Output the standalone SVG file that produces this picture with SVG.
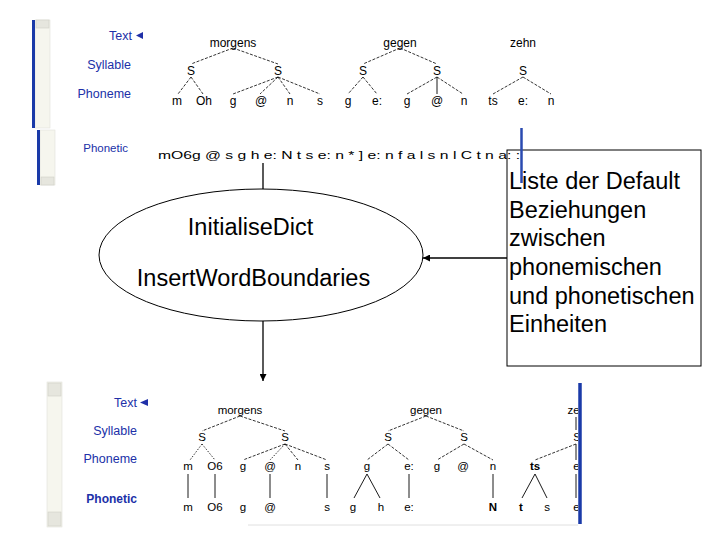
<svg xmlns="http://www.w3.org/2000/svg" width="720" height="540" viewBox="0 0 720 540">
<style>
.lbl{font-family:"Liberation Sans",Arial,sans-serif;font-size:12.5px;fill:#2030a8;text-anchor:end}
.t{font-family:"Liberation Sans",Arial,sans-serif;font-size:12px;fill:#000;text-anchor:middle}
.tb{font-family:"Liberation Sans",Arial,sans-serif;font-size:11.5px;fill:#000;text-anchor:middle}
.big{font-family:"Liberation Sans",Arial,sans-serif;font-size:23.5px;fill:#000}
.d{stroke:#000;stroke-width:0.8;stroke-dasharray:3,1.5;fill:none}
.dt{stroke:#000;stroke-width:0.8;stroke-dasharray:1.5,1.5;fill:none}
.s{stroke:#000;stroke-width:0.9;fill:none}
.blue{stroke:#1a3aa8;stroke-width:3}
.strip{fill:#f6f6ee;stroke:#e2e2da;stroke-width:0.6}
.btn{fill:#e6e6de;stroke:#cfcfc6;stroke-width:0.6}
.conn{stroke:#000;stroke-width:1.3;fill:none}
</style>
<defs>
<marker id="ah" viewBox="0 0 10 10" refX="10" refY="5" markerWidth="7" markerHeight="7" orient="auto" markerUnits="userSpaceOnUse">
<path d="M0,0 L10,5 L0,10 z" fill="#000"/>
</marker>
<clipPath id="clipB"><rect x="0" y="378" width="578" height="162"/></clipPath>
</defs>
<rect width="720" height="540" fill="#fff"/>

<g id="panel-top">
<rect class="strip" x="35" y="20" width="15" height="108"/>
<rect class="btn" x="36" y="20" width="13" height="8"/>
<line class="blue" x1="33.5" y1="20" x2="33.5" y2="128"/>
<rect class="strip" x="40" y="130" width="15" height="55"/>
<rect class="btn" x="41" y="177" width="13" height="8"/>
<line class="blue" x1="38.5" y1="130" x2="38.5" y2="185"/>
<text class="lbl" x="132" y="40">Text</text>
<polygon points="136,35.5 143,32 143,39" fill="#2030a8"/>
<text class="lbl" x="131" y="69">Syllable</text>
<text class="lbl" x="131" y="98">Phoneme</text>
<text class="lbl" x="128" y="152" style="font-size:11.5px">Phonetic</text>
<g>
<text class="t" x="233" y="47">morgens</text>
<text class="t" x="400" y="47">gegen</text>
<text class="t" x="523" y="47">zehn</text>
<text class="t" x="191" y="75">S</text>
<text class="t" x="278" y="75">S</text>
<text class="t" x="363" y="75">S</text>
<text class="t" x="437" y="75">S</text>
<text class="t" x="523" y="75">S</text>
<text class="t" x="177" y="105">m</text>
<text class="t" x="204" y="105">Oh</text>
<text class="t" x="233" y="105">g</text>
<text class="t" x="261" y="105">@</text>
<text class="t" x="290" y="105">n</text>
<text class="t" x="320" y="105">s</text>
<text class="t" x="348" y="105">g</text>
<text class="t" x="377" y="105">e:</text>
<text class="t" x="407" y="105">g</text>
<text class="t" x="437" y="105">@</text>
<text class="t" x="464" y="105">n</text>
<text class="t" x="493" y="105">ts</text>
<text class="t" x="523" y="105">e:</text>
<text class="t" x="551" y="105">n</text>
</g>
<g>
<path class="d" d="M233,48 L191,64 M233,48 L278,64 M400,48 L363,64 M400,48 L437,64"/>
<path class="d" d="M191,77 L178,94 M191,77 L203,94"/>
<path class="d" d="M278,77 L233,94 M278,77 L260,94 M278,77 L290,94 M278,77 L320,94"/>
<path class="d" d="M363,77 L348,94 M363,77 L377,94"/>
<path class="d" d="M437,77 L407,94 M437,77 L463,94"/>
<path class="s" d="M437,77 L437,94"/>
<path class="d" d="M523,77 L493,94 M523,77 L551,94"/>
</g>
<text x="158" y="159" textLength="362" lengthAdjust="spacingAndGlyphs" style="font-family:'Liberation Sans',Arial,sans-serif;font-size:10.5px;fill:#000">mO6g @ s g h e: N t s e: n * ] e: n f a l s n l C t n a: :</text>
</g>

<g id="box-node">
<rect x="507" y="150" width="194" height="216" fill="none" stroke="#000" stroke-width="1"/>
<line x1="521.5" y1="128" x2="521.5" y2="183" stroke="#2a4ab0" stroke-width="2.5"/>
<text class="big" x="509" y="189">Liste der Default</text>
<text class="big" x="509" y="218">Beziehungen</text>
<text class="big" x="509" y="246">zwischen</text>
<text class="big" x="509" y="275">phonemischen</text>
<text class="big" x="509" y="304">und phonetischen</text>
<text class="big" x="509" y="332">Einheiten</text>
</g>

<g id="ellipse-node">
<ellipse cx="261" cy="255" rx="162" ry="66" fill="none" stroke="#000" stroke-width="1"/>
<text class="big" x="250.5" y="235" text-anchor="middle">InitialiseDict</text>
<text class="big" x="253.5" y="286" text-anchor="middle">InsertWordBoundaries</text>
</g>

<g id="connectors">
<line class="conn" x1="263" y1="163" x2="263" y2="189"/>
<line class="conn" x1="507" y1="258" x2="423" y2="258" marker-end="url(#ah)"/>
<line class="conn" x1="263" y1="321" x2="263" y2="381" marker-end="url(#ah)"/>
</g>

<g id="panel-bottom">
<rect class="strip" x="47" y="382" width="15" height="145"/>
<rect class="btn" x="48" y="383" width="13" height="13"/>
<rect class="btn" x="48" y="512" width="13" height="14"/>
<line x1="248" y1="525" x2="578" y2="525" stroke="#e0e0e0" stroke-width="1"/>
<text class="lbl" x="137" y="407">Text</text>
<polygon points="140,402.5 148,399 148,406" fill="#2030a8"/>
<text class="lbl" x="137" y="435">Syllable</text>
<text class="lbl" x="137" y="463">Phoneme</text>
<text class="lbl" x="137" y="503" style="font-weight:bold;font-size:12px">Phonetic</text>
<g clip-path="url(#clipB)">
<text class="tb" x="240" y="414">morgens</text>
<text class="tb" x="426" y="414">gegen</text>
<text class="tb" x="580" y="414">zehn</text>
<text class="tb" x="202" y="441">S</text>
<text class="tb" x="285" y="441">S</text>
<text class="tb" x="388" y="441">S</text>
<text class="tb" x="464" y="441">S</text>
<text class="tb" x="577" y="441">S</text>
<text class="tb" x="188" y="470">m</text>
<text class="tb" x="215" y="470">O6</text>
<text class="tb" x="243" y="470">g</text>
<text class="tb" x="270" y="470">@</text>
<text class="tb" x="298" y="470">n</text>
<text class="tb" x="327" y="470">s</text>
<text class="tb" x="367" y="470">g</text>
<text class="tb" x="409" y="470">e:</text>
<text class="tb" x="437" y="470">g</text>
<text class="tb" x="463" y="470">@</text>
<text class="tb" x="493" y="470">n</text>
<text class="tb" x="535" y="470" style="font-weight:bold">ts</text>
<text class="tb" x="578" y="470">e:</text>
<text class="tb" x="188" y="511">m</text>
<text class="tb" x="215" y="511">O6</text>
<text class="tb" x="243" y="511">g</text>
<text class="tb" x="270" y="511">@</text>
<text class="tb" x="327" y="511">s</text>
<text class="tb" x="353" y="511">g</text>
<text class="tb" x="381" y="511">h</text>
<text class="tb" x="409" y="511">e:</text>
<text class="tb" x="493" y="511" style="font-weight:bold">N</text>
<text class="tb" x="521" y="511" style="font-weight:bold">t</text>
<text class="tb" x="547" y="511">s</text>
<text class="tb" x="578" y="511">e:</text>
<path class="d" d="M240,416 L202,431 M240,416 L285,431 M426,416 L388,431 M426,416 L464,431"/>
<path class="dt" d="M202,444 L190,460 M202,444 L215,460"/>
<path class="d" d="M285,444 L243,460 M285,444 L298,460 M285,444 L327,460"/>
<path class="dt" d="M285,444 L270,460"/>
<path class="d" d="M388,444 L367,460 M388,444 L409,460"/>
<path class="d" d="M464,444 L437,460 M464,444 L493,460"/>
<path class="d" d="M576,444 L535,460"/>
<path class="s" d="M576,417 L576,430 M576,444 L576,460"/>
<path class="s" d="M188,474 L188,498 M215,474 L215,498 M270,474 L270,498 M327,474 L327,498"/>
<path class="s" d="M367,474 L354,498 M367,474 L380,498 M409,474 L409,498 M493,474 L493,498"/>
<path class="s" d="M535,474 L522,498 M535,474 L547,498 M576,474 L576,498"/>
</g>
<line x1="580" y1="383" x2="580" y2="524" stroke="#1a3aa8" stroke-width="3.5"/>
</g>
</svg>
